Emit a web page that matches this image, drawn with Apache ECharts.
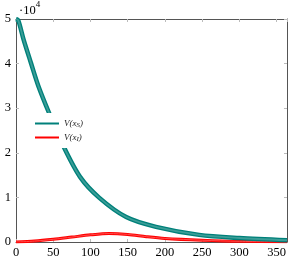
<!DOCTYPE html>
<html><head><meta charset="utf-8">
<script src="https://cdn.jsdelivr.net/npm/echarts@6/dist/echarts.min.js"></script>
<style>html,body{margin:0;padding:0;background:#fff}#c{width:294px;height:261px}</style>
</head><body><div id="c"></div>
<script>
// time steps (x)
const xS = [0, 3, 10, 20, 30, 45, 63, 86, 112, 148, 188, 246, 300, 364];
// V(x_S) in units of 10^4
const vS = [5.0, 4.97, 4.55, 4.02, 3.5, 2.87, 2.17, 1.46, 0.99, 0.56, 0.34, 0.16, 0.09, 0.04];
const xI = [0, 25, 50, 75, 100, 125, 150, 175, 200, 250, 300, 364];
// V(x_I) in units of 10^4
const vI = [0, 0.02, 0.06, 0.11, 0.16, 0.19, 0.17, 0.12, 0.08, 0.04, 0.015, 0.005];
const xTicks = [0, 50, 100, 150, 200, 250, 300, 350];
const yTicks = [0, 1, 2, 3, 4, 5];

const pairs = (xs, ys) => xs.map((x, i) => [x, ys[i]]);
const font = 'Liberation Serif';
const axisCommon = {
  type: 'value', min: 0,
  axisLine: {show: true, onZero: false, lineStyle: {color: '#555', width: 1}},
  axisTick: {show: true, inside: true, length: 3, lineStyle: {color: '#bbb'}},
  splitLine: {show: false}
};
const chart = echarts.init(document.getElementById('c'), null, {renderer: 'canvas'});
chart.setOption({
  animation: false,
  backgroundColor: '#fff',
  grid: {left: 16, right: 7, top: 19, bottom: 19, containLabel: false},
  xAxis: [
    Object.assign({}, axisCommon, {position: 'bottom', max: 364, interval: 50,
      axisLabel: {show: true, margin: 4, fontFamily: font, fontSize: 12.5, color: '#000', showMaxLabel: false,
        formatter: v => xTicks.includes(v) ? String(v) : ''}}),
    Object.assign({}, axisCommon, {position: 'top', max: 364, interval: 50, axisLabel: {show: false}})
  ],
  yAxis: [
    Object.assign({}, axisCommon, {position: 'left', max: 5, interval: 1,
      axisLabel: {show: true, margin: 5, fontFamily: font, fontSize: 12.5, color: '#000',
        formatter: v => yTicks.includes(v) ? String(v) : ''}}),
    Object.assign({}, axisCommon, {position: 'right', max: 5, interval: 1, axisLabel: {show: false}})
  ],
  legend: {
    orient: 'vertical', left: 30, top: 113,
    padding: [5, 30, 5, 5], backgroundColor: '#fff',
    itemWidth: 24, itemHeight: 2, itemGap: 3, itemTextGap: 3,
    icon: 'rect',
    data: ['V(x_S)', 'V(x_I)'],
    formatter: name => name === 'V(x_S)' ? '{i|V(x}{s|S}{i|)}' : '{i|V(x}{s|I}{i|)}',
    textStyle: {
      fontFamily: font, fontSize: 9, color: '#222', lineHeight: 10,
      rich: {
        i: {fontFamily: font, fontStyle: 'italic', fontSize: 9, color: '#222', lineHeight: 10},
        s: {fontFamily: font, fontStyle: 'italic', fontSize: 7, color: '#222', lineHeight: 10, padding: [4, 0, 0, 0]}
      }
    }
  },
  graphic: [{
    type: 'text', left: 19, top: 0,
    style: {
      text: '{a|·10}{b|4}', fill: '#000',
      rich: {
        a: {fontFamily: font, fontSize: 12.5, fill: '#000', padding: [4, 0, 0, 0]},
        b: {fontFamily: font, fontSize: 9, fill: '#000', padding: [0, 0, 6, 0], verticalAlign: 'top'}
      }
    }
  }],
  series: [
    {name: 'V(x_S)', type: 'line', data: pairs(xS, vS), smooth: 0.3, showSymbol: false,
      color: '#00807a', lineStyle: {width: 4.5, color: '#00807a'}, z: 3},
    {name: 'V(x_S) band', type: 'line', data: pairs(xS, vS), smooth: 0.3, showSymbol: false,
      lineStyle: {width: 1.8, color: '#3a9d97'}, z: 3, silent: true},
    {name: 'V(x_I)', type: 'line', data: pairs(xI, vI), smooth: 0.3, showSymbol: false,
      color: '#ff0000', lineStyle: {width: 3, color: '#ff0000'}, z: 2},
    {name: 'V(x_I) band', type: 'line', data: pairs(xI, vI), smooth: 0.3, showSymbol: false,
      lineStyle: {width: 1, color: '#ff4a4a'}, z: 2, silent: true}
  ]
});
</script></body></html>
